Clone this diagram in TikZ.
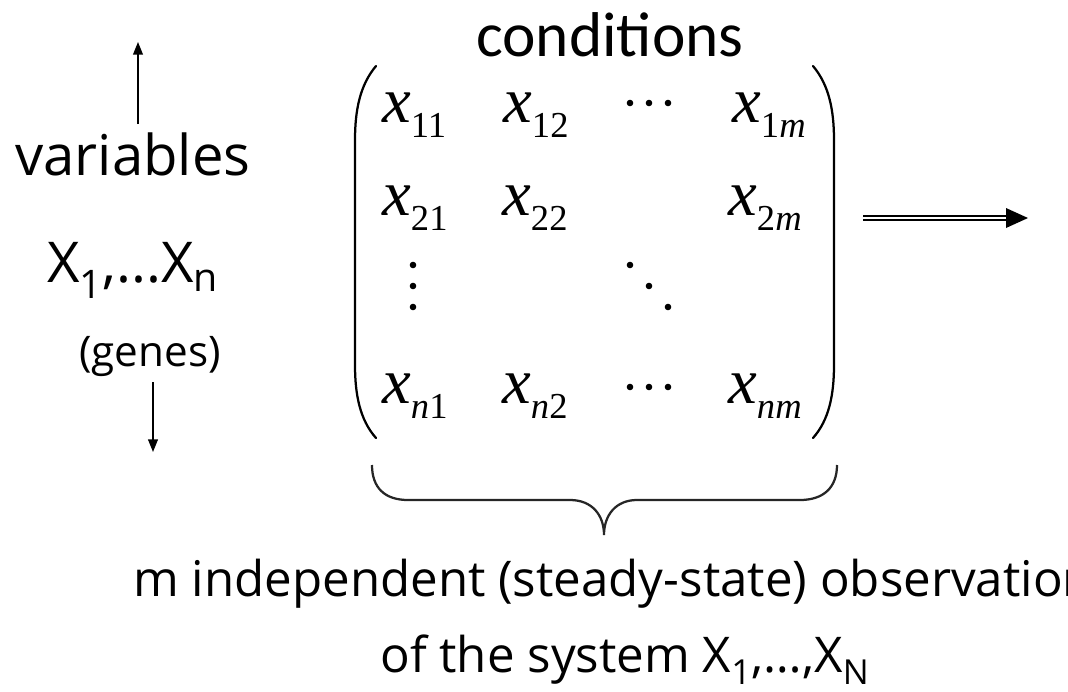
\documentclass[tikz,border=0pt]{standalone}
\usepackage{fontspec}
\setmainfont{Open Sans}
\newfontfamily\calfont{Carlito}
\newfontfamily\matfont{Liberation Serif}
\usetikzlibrary{arrows.meta,positioning,calc}

% one matrix entry: italic x with a lowered subscript
\newcommand{\xent}[1]{{\matfont\itshape x}\raisebox{-10.7pt}{\fontsize{26}{26}\selectfont\matfont #1}}

\begin{document}
\begin{tikzpicture}[x=0.025cm, y=-0.025cm,
    entry/.style={anchor=base west, inner sep=0pt, font=\fontsize{46}{50}\selectfont},
    sidetext/.style={inner sep=0pt, font=\fontsize{40}{44}\selectfont},
    bottomtext/.style={inner sep=0pt, anchor=base, font=\fontsize{35}{40}\selectfont},
    thinarrow/.style={-{Triangle[length=9pt, width=7pt]}, line width=1pt},
    paren/.style={line width=1.6pt, line cap=round}]
  \useasboundingbox (0,0) rectangle (1068,692);
  \clip (0,0) rectangle (1068,692);

  % Title
  \node[inner sep=0pt, font=\calfont\fontsize{45}{50}\selectfont] (cond) at (610,35) {conditions};

  % Left labels
  \node[sidetext, anchor=base] (vars) at (133,175) {variables};
  \node[sidetext, anchor=base] (xs) at (133,282) {X\textsubscript{1},...X\textsubscript{n}};
  \node[sidetext, anchor=base, font=\fontsize{30}{34}\selectfont] (genes) at (150,366) {(genes)};
  \coordinate (upEnd) at (138,42);
  \coordinate (downEnd) at (153,452);
  \draw[thinarrow] (upEnd |- 0,124) -- (upEnd);
  \draw[thinarrow] (downEnd |- 0,382) -- (downEnd);

  % Matrix entries
  \node[entry] (x11) at (382,122) {\xent{11}};
  \node[entry] (x12) at (503,122) {\xent{12}};
  \node[entry] (x1m) at (732,122) {\xent{1\textit{m}}};
  \node[entry] (x21) at (382,215) {\xent{21}};
  \node[entry] (x22) at (502,215) {\xent{22}};
  \node[entry] (x2m) at (728,215) {\xent{2\textit{m}}};
  \node[entry] (xn1) at (382,403) {\xent{\textit{n}1}};
  \node[entry] (xn2) at (502,403) {\xent{\textit{n}2}};
  \node[entry] (xnm) at (728,403) {\xent{\textit{nm}}};

  % dots
  \foreach \k in {0,1,2} {
    \fill (630+19*\k,103) circle (3.3);
    \fill (630+19*\k,387) circle (3.3);
    \fill (413,265+21*\k) circle (3.3);
    \fill (630+19*\k,265+21*\k) circle (3.3);
  }

  % brackets
  \draw[paren] (376,66) .. controls (360,85) and (355,110) .. (355,140) -- (355,365) .. controls (355,395) and (360,420) .. (376,438);
  \draw[paren] (813,66) .. controls (829,85) and (834,110) .. (834,140) -- (834,365) .. controls (834,395) and (829,420) .. (813,438);

  % double arrow
  \coordinate (dblStart) at (863,218);
  \coordinate (dblEnd) at (1028,218);
  \draw[line width=1.1pt, double distance=1.4pt] (dblStart) -- ($(dblEnd)+(-18,0)$);
  \fill (dblEnd) -- ++(-22,-10) -- ++(0,20) -- cycle;

  % brace
  \draw[line width=1.6pt, black!85] (372,465) .. controls (372,488) and (385,500) .. (408,500) -- (570,500)
    .. controls (592,500) and (604,515) .. (604,535)
    .. controls (604,515) and (616,500) .. (637,500) -- (800,500)
    .. controls (823,500) and (837,488) .. (837,465);

  % Bottom text
  \node[bottomtext, anchor=base west] (obs) at (133,596) {m independent (steady-state) observations};
  \node[bottomtext] (sys) at (625,672) {of the system X\textsubscript{1},…,X\textsubscript{N}};
\end{tikzpicture}
\end{document}
